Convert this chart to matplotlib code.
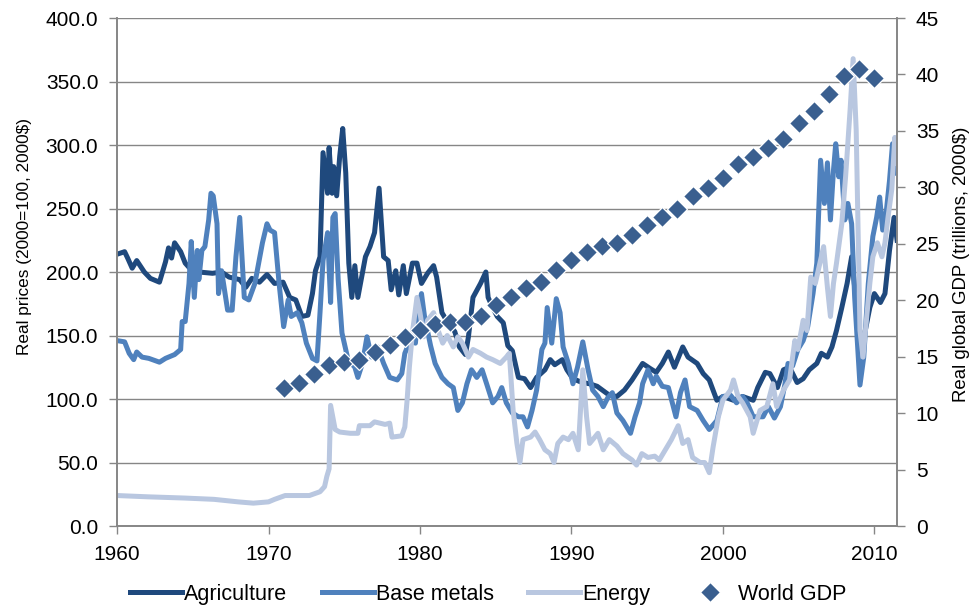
import numpy as np
import matplotlib
matplotlib.use("Agg")
import matplotlib.pyplot as plt

plt.rcParams['font.family'] = ['Liberation Sans', 'DejaVu Sans']

# Real commodity price indices (2000=100, 2000$)
ag_years = [1960.0, 1960.5, 1960.7, 1961.0, 1961.3, 1961.8, 1962.2, 1962.8, 1963.2, 1963.4,
            1963.6, 1963.8, 1964.2, 1964.5, 1964.95, 1965.4, 1966.3, 1966.9, 1967.4, 1968.1,
            1968.5, 1968.9, 1969.4, 1969.9, 1970.4, 1970.96, 1971.4, 1971.8, 1972.2, 1972.6,
            1972.9, 1973.1, 1973.4, 1973.6, 1973.9, 1974.0, 1974.2, 1974.3, 1974.5, 1974.7,
            1974.9, 1975.1, 1975.3, 1975.5, 1975.7, 1975.9, 1976.4, 1976.7, 1977.0, 1977.3,
            1977.6, 1977.9, 1978.1, 1978.4, 1978.6, 1978.9, 1979.1, 1979.5, 1979.8, 1980.1,
            1980.5, 1980.9, 1981.1, 1981.45, 1981.85, 1982.3, 1982.6, 1983.0, 1983.2, 1983.5,
            1984.0, 1984.35, 1984.5, 1984.8, 1985.1, 1985.5, 1985.8, 1986.1, 1986.5, 1986.9,
            1987.3, 1987.7, 1988.25, 1988.6, 1988.9, 1989.4, 1989.7, 1990.1, 1990.7, 1991.2,
            1991.7, 1992.5, 1993.0, 1993.5, 1994.0, 1994.7, 1995.2, 1995.6, 1996.0, 1996.4,
            1996.8, 1997.35, 1997.7, 1998.3, 1998.7, 1999.1, 1999.6, 2000.0, 2000.7, 2001.3,
            2002.0, 2002.3, 2002.8, 2003.1, 2003.6, 2004.0, 2004.4, 2004.9, 2005.3, 2005.7,
            2006.2, 2006.5, 2006.9, 2007.2, 2007.5, 2007.85, 2008.2, 2008.5, 2008.7, 2008.9,
            2009.2, 2009.4, 2009.7, 2010.0, 2010.4, 2010.7, 2011.0, 2011.3, 2011.5]
ag_vals = [214, 216, 211, 203, 209, 200, 195, 192, 208, 219,
           211, 223, 216, 207, 201, 200, 199, 200, 196, 194,
           188, 195, 192, 198, 191, 192, 180, 178, 165, 166,
           183, 201, 212, 294, 262, 298, 262, 283, 260, 291,
           313, 278, 207, 180, 205, 180, 212, 220, 231, 266,
           212, 209, 186, 201, 182, 205, 183, 207, 207, 191,
           199, 205, 196, 168, 160, 153, 141, 135, 149, 180,
           191, 200, 180, 172, 165, 160, 142, 138, 117, 116,
           109, 117, 123, 131, 127, 131, 123, 116, 113, 112,
           110, 103, 102, 107, 115, 128, 124, 121, 128, 137,
           125, 141, 133, 128, 120, 115, 99, 102, 99, 102,
           99, 109, 121, 120, 109, 123, 125, 113, 116, 123,
           128, 136, 133, 141, 154, 172, 191, 212, 188, 162,
           139, 154, 172, 183, 176, 183, 217, 243, 225]

metal_years = [1960.0, 1960.5, 1960.8, 1961.1, 1961.3, 1961.65, 1962.1, 1962.8, 1963.2, 1963.8,
               1964.2, 1964.3, 1964.5, 1964.75, 1964.9, 1965.1, 1965.3, 1965.4, 1965.6, 1965.8,
               1966.05, 1966.2, 1966.35, 1966.6, 1966.7, 1966.9, 1967.3, 1967.6, 1967.85, 1968.1,
               1968.4, 1968.7, 1969.1, 1969.6, 1969.9, 1970.1, 1970.4, 1970.7, 1971.0, 1971.3,
               1971.5, 1971.9, 1972.2, 1972.5, 1972.9, 1973.2, 1973.4, 1973.6, 1973.9, 1974.1,
               1974.25, 1974.4, 1974.6, 1974.85, 1975.25, 1975.7, 1975.9, 1976.2, 1976.5, 1976.8,
               1977.2, 1977.6, 1978.0, 1978.5, 1978.8, 1979.0, 1979.35, 1979.7, 1979.9, 1980.1,
               1980.3, 1980.7, 1981.0, 1981.45, 1981.85, 1982.2, 1982.5, 1982.8, 1983.1, 1983.4,
               1983.75, 1984.1, 1984.4, 1984.8, 1985.15, 1985.4, 1985.7, 1986.1, 1986.5, 1986.8,
               1987.1, 1987.4, 1987.7, 1988.05, 1988.25, 1988.4, 1988.7, 1989.0, 1989.25, 1989.45,
               1989.8, 1990.1, 1990.4, 1990.75, 1991.1, 1991.4, 1991.75, 1992.1, 1992.4, 1992.7,
               1993.0, 1993.4, 1993.9, 1994.2, 1994.5, 1994.7, 1995.05, 1995.4, 1995.6, 1996.0,
               1996.4, 1996.9, 1997.2, 1997.5, 1997.8, 1998.3, 1998.7, 1999.1, 1999.6, 2000.0,
               2000.5, 2000.9, 2001.3, 2001.6, 2002.0, 2002.65, 2003.0, 2003.4, 2003.8, 2004.1,
               2004.3, 2004.6, 2004.95, 2005.3, 2005.6, 2005.95, 2006.2, 2006.45, 2006.7, 2006.9,
               2007.1, 2007.3, 2007.45, 2007.65, 2007.8, 2008.05, 2008.25, 2008.5, 2008.7, 2009.05,
               2009.3, 2009.6, 2009.9, 2010.15, 2010.35, 2010.55, 2010.8, 2011.0, 2011.2, 2011.5]
metal_vals = [146, 145, 136, 131, 137, 133, 132, 129, 132, 135,
              139, 161, 161, 191, 224, 180, 217, 194, 217, 220,
              241, 262, 260, 238, 183, 201, 170, 170, 212, 243,
              180, 178, 191, 223, 238, 233, 231, 191, 157, 178,
              165, 168, 160, 144, 132, 130, 168, 209, 231, 176,
              243, 246, 194, 152, 131, 125, 117, 128, 149, 133,
              141, 128, 117, 115, 120, 136, 146, 144, 172, 183,
              165, 142, 128, 117, 112, 109, 91, 97, 112, 123,
              117, 123, 112, 97, 102, 109, 97, 89, 86, 86,
              78, 91, 107, 139, 144, 172, 144, 179, 168, 141,
              128, 112, 125, 145, 123, 107, 102, 94, 101, 105,
              89, 83, 73, 86, 97, 112, 123, 112, 118, 110,
              109, 86, 105, 115, 94, 91, 83, 76, 83, 102,
              103, 97, 102, 97, 86, 86, 94, 85, 94, 112,
              128, 126, 139, 146, 157, 183, 207, 288, 254, 286,
              241, 280, 301, 275, 288, 241, 254, 238, 180, 111,
              133, 191, 228, 243, 259, 233, 249, 272, 301, 278]

energy_years = [1960.0, 1962.0, 1964.5, 1966.4, 1968.0, 1969.0, 1970.0, 1970.4, 1971.1, 1972.1,
                1972.7, 1973.4, 1973.7, 1973.85, 1974.0, 1974.1, 1974.4, 1974.7, 1975.4, 1975.9,
                1976.0, 1976.7, 1977.0, 1977.7, 1978.0, 1978.15, 1978.8, 1979.0, 1979.15, 1979.3,
                1979.5, 1979.8, 1980.0, 1980.25, 1980.5, 1980.9, 1981.2, 1981.5, 1981.8, 1982.2,
                1982.5, 1982.8, 1983.2, 1983.5, 1984.0, 1984.4, 1984.8, 1985.3, 1985.7, 1985.9,
                1986.15, 1986.4, 1986.6, 1986.8, 1987.3, 1987.6, 1987.9, 1988.25, 1988.6, 1988.85,
                1989.1, 1989.45, 1989.8, 1990.1, 1990.45, 1990.75, 1991.0, 1991.2, 1991.75, 1992.1,
                1992.5, 1993.0, 1993.4, 1994.0, 1994.3, 1994.65, 1995.05, 1995.5, 1995.8, 1996.2,
                1996.6, 1997.05, 1997.35, 1997.7, 1998.0, 1998.5, 1998.8, 1999.1, 1999.35, 1999.7,
                2000.0, 2000.5, 2000.7, 2001.0, 2001.3, 2001.8, 2002.0, 2002.45, 2002.9, 2003.3,
                2003.55, 2004.0, 2004.4, 2004.75, 2004.95, 2005.3, 2005.55, 2005.8, 2006.1, 2006.4,
                2006.65, 2006.9, 2007.1, 2007.3, 2007.5, 2007.85, 2008.1, 2008.4, 2008.6, 2008.8,
                2009.05, 2009.25, 2009.5, 2009.7, 2009.9, 2010.2, 2010.5, 2010.7, 2010.9, 2011.15,
                2011.35, 2011.5]
energy_vals = [24, 23, 22, 21, 19, 18, 19, 21, 24, 24,
               24, 27, 31, 39, 45, 95, 76, 74, 73, 73,
               79, 79, 82, 80, 81, 70, 71, 78, 99, 125,
               152, 180, 168, 149, 162, 168, 154, 144, 150, 141,
               149, 144, 133, 139, 136, 133, 131, 128, 133, 136,
               91, 65, 50, 68, 70, 74, 68, 60, 57, 50,
               65, 70, 68, 73, 60, 123, 86, 65, 73, 60,
               68, 63, 57, 52, 48, 57, 54, 55, 52, 60,
               68, 79, 65, 68, 54, 50, 50, 42, 62, 86,
               99, 107, 115, 102, 97, 86, 73, 91, 94, 112,
               94, 107, 115, 146, 139, 162, 154, 196, 191, 207,
               220, 188, 165, 191, 207, 238, 275, 328, 368, 312,
               154, 133, 165, 191, 212, 223, 212, 223, 243, 265,
               306, 286]

# Real global GDP, trillions of 2000$
gdp_years = list(range(1971, 2011))
gdp_vals = [12.2, 12.7, 13.5, 14.3, 14.5, 14.7, 15.4, 16.0, 16.7, 17.4,
            17.9, 18.1, 18.1, 18.6, 19.6, 20.3, 21.1, 21.6, 22.7, 23.6,
            24.3, 24.8, 25.1, 25.8, 26.7, 27.4, 28.1, 29.2, 29.9, 30.8,
            32.1, 32.7, 33.5, 34.3, 35.7, 36.8, 38.3, 39.9, 40.5, 39.7]

grey = '#868686'
fs = 15

fig = plt.figure(figsize=(9.77, 6.15), dpi=100)
ax = fig.add_axes([0.1198, 0.1447, 0.7984, 0.826])

lw = 3.6
ax.plot(ag_years, ag_vals, color='#1F497D', lw=lw, label='Agriculture', solid_joinstyle='round')
ax.plot(metal_years, metal_vals, color='#4F81BD', lw=lw, label='Base metals', solid_joinstyle='round')
ax.plot(energy_years, energy_vals, color='#B9C7E0', lw=lw, label='Energy', solid_joinstyle='round')

ax.set_xlim(1960, 2011.5)
ax.set_ylim(0, 400)
ax.set_yticks(np.arange(0, 401, 50))
ax.set_yticklabels([f'{v:.1f}' for v in np.arange(0, 401, 50)])
ax.set_xticks(range(1960, 2011, 10))
ax.yaxis.grid(True, color=grey, lw=1)
ax.set_axisbelow(True)
ax.set_ylabel('Real prices (2000=100, 2000$)', fontsize=12.4)
ax.yaxis.set_label_coords(-0.109, 0.57)

ax2 = ax.twinx()
ax2.plot(gdp_years, gdp_vals, linestyle='none', marker='D', markersize=9.8,
         color='#3A5F8F', markeredgecolor='white', markeredgewidth=0.9, label='World GDP')
ax2.set_ylim(0, 45)
ax2.set_yticks(range(0, 46, 5))
ax2.set_ylabel('Real global GDP (trillions, 2000$)', fontsize=13.4)
ax2.yaxis.set_label_coords(1.072, 0.515)

for a in (ax, ax2):
    a.spines['top'].set_visible(False)
    for s in ('left', 'right', 'bottom'):
        a.spines[s].set_color(grey)
        a.spines[s].set_linewidth(1.2)
    a.tick_params(direction='out', length=5.5, width=1, color=grey, labelsize=fs, pad=8)

h1, l1 = ax.get_legend_handles_labels()
h2, l2 = ax2.get_legend_handles_labels()
fig.legend(h1 + h2, l1 + l2, loc='lower center', bbox_to_anchor=(0.5, -0.015), ncol=4,
           frameon=False, fontsize=15.5, handlelength=2.4, handletextpad=0.1,
           columnspacing=1.6)

plt.savefig('out.png', dpi=100)
